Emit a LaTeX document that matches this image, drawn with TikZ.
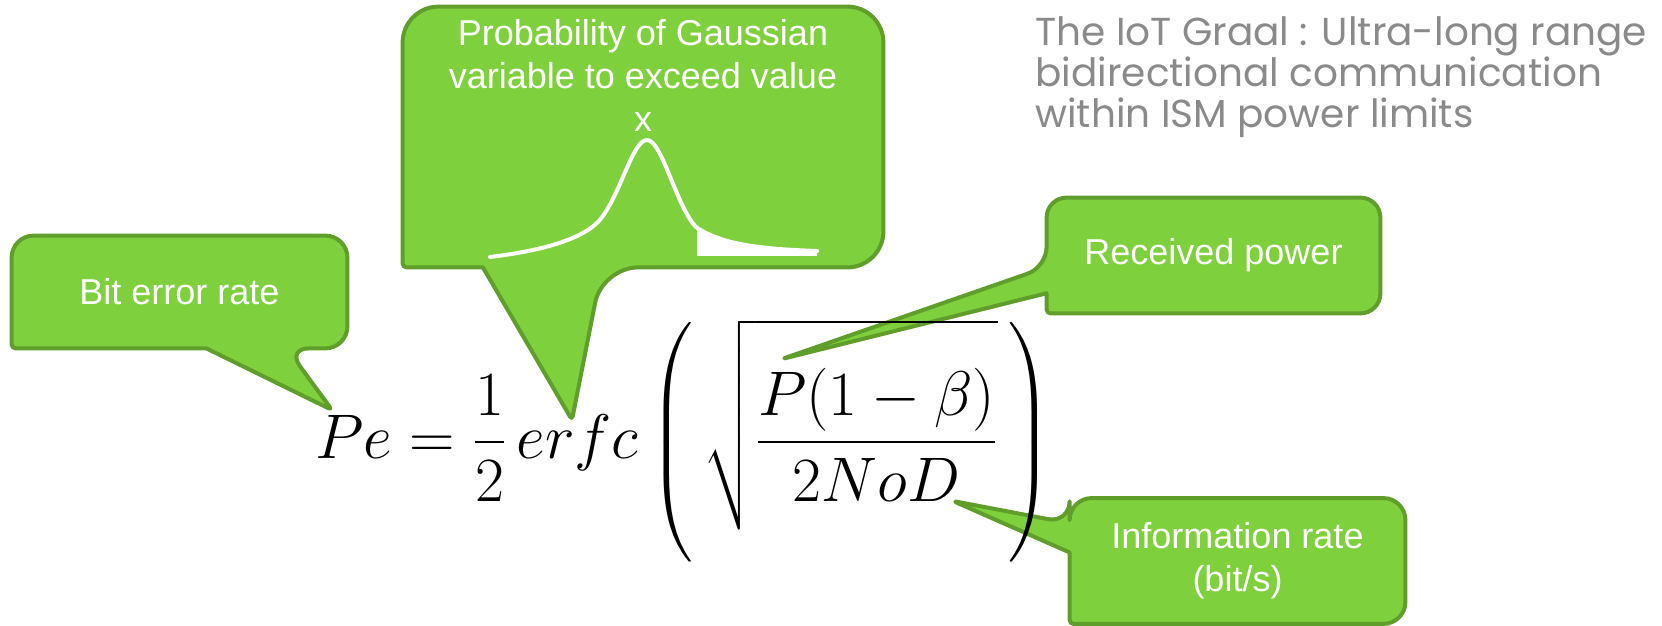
\RequirePackage{fix-cm}
\documentclass[tikz,border=0pt]{standalone}
\usepackage{amsmath}
\usepackage[no-math]{fontspec}
\newfontfamily\boxfont{Liberation Sans}
\newfontfamily\titlefont{Poppins}
\usepackage{tikz}
\usetikzlibrary{calc,positioning,backgrounds}
\definecolor{callfill}{RGB}{126,208,60}
\definecolor{callline}{RGB}{96,158,44}
\definecolor{titlegray}{RGB}{138,138,138}

\begin{document}
\begin{tikzpicture}[x=.5pt,y=-.5pt,
 every node/.style={inner sep=0pt},
 callout/.style={draw=callline,fill=callfill,line width=2pt,line join=round},
 lbl/.style={font=\boxfont\fontsize{18}{21.5}\selectfont,text=white,align=center},
 gauss/.style={draw=white,line width=2pt,line cap=round}]
 \useasboundingbox (0,0) rectangle (1662,626);
 \node[lbl,minimum width=167.5pt,minimum height=56pt] (ber) at (179.5,292) {Bit error rate};
 \node[minimum width=240pt,minimum height=130pt] (prob) at (643,137) {};
 \node[lbl,below=6pt of prob.north] (probtxt) {Probability of Gaussian\\variable to exceed value\\x};
 \node[lbl,minimum width=166.5pt,minimum height=57.5pt] (rxp) at (1213.5,255.5) {Received power};
 \node[lbl,minimum width=167.5pt,minimum height=62.5pt] (info) at (1237.5,561) {Information rate\\(bit/s)};
 \node[anchor=base west,font=\fontsize{31.5}{36}\selectfont] (pe) at (315,458)
  {$\displaystyle Pe=\frac{1}{2}\,erfc\left(\mkern3mu\sqrt{\rule[-35pt]{0pt}{97pt}\frac{P(1-\beta)}{2NoD}}\,\right)$};
 \node[anchor=north west,align=left,text=titlegray,
  font=\titlefont\fontsize{19.5}{20.5}\selectfont] (title) at (1035,16)
  {The IoT Graal : Ultra-long range\\bidirectional communication\\within ISM power limits};
 \coordinate (tber) at (332,410);
 \coordinate (tprob) at (572,420);
 \coordinate (trxp) at (782,359);
 \coordinate (tinfo) at (953,501);
 \begin{scope}[on background layer]
  \draw[callout] (ber.north) [rounded corners=11pt] -- (ber.north east) -- (ber.south east)
   -- ($(ber.south west)!.82!(ber.south east)$) [rounded corners=2pt] -- (tber) [sharp corners]
   -- ($(ber.south west)!.58!(ber.south east)$) [rounded corners=2pt] -- (ber.south west)
   [rounded corners=11pt] -- (ber.north west) -- cycle;
  \draw[callout] (prob.north) [rounded corners=18pt] -- (prob.north east) -- (prob.south east)
   -- ($(prob.south west)!.415!(prob.south east)$) [rounded corners=2pt] -- (tprob) [sharp corners]
   -- ($(prob.south west)!.167!(prob.south east)$) [rounded corners=2pt] -- (prob.south west)
   [rounded corners=18pt] -- (prob.north west) -- cycle;
  \draw[callout] (rxp.east) [rounded corners=10pt] -- (rxp.north east) -- (rxp.north west)
   -- ($(rxp.north west)!.6!(rxp.south west)$) [rounded corners=2pt] -- (trxp) [sharp corners]
   -- ($(rxp.north west)!.826!(rxp.south west)$) [rounded corners=2pt] -- (rxp.south west)
   [rounded corners=10pt] -- (rxp.south east) -- cycle;
  \draw[callout] (info.east) [rounded corners=11pt] -- (info.north east) -- (info.north west)
   -- ($(info.north west)!.2!(info.south west)$) [rounded corners=2pt] -- (tinfo) [sharp corners]
   -- ($(info.north west)!.432!(info.south west)$) [rounded corners=2pt] -- (info.south west)
   [rounded corners=11pt] -- (info.south east) -- cycle;
 \end{scope}
 \draw[gauss] (490,257) .. controls (540,251) and (580,240) .. (598,222)
  .. controls (620,198) and (632,140) .. (647,140)
  .. controls (662,140) and (676,206) .. (696,227)
  .. controls (722,245) and (762,249) .. (817,251);
 \fill[white] (697,228) .. controls (722,246) and (762,249) .. (817,250) -- (817,256) -- (697,256) -- cycle;
\end{tikzpicture}
\end{document}
